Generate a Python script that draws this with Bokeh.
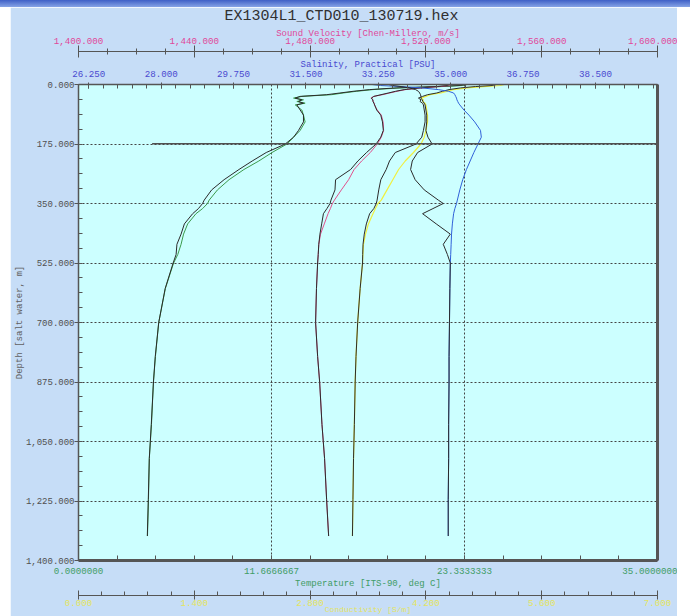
from bokeh.plotting import figure
from bokeh.models import Range1d, LinearAxis, FixedTicker, NumeralTickFormatter, Grid, Div
from bokeh.layouts import column
from bokeh.embed import file_html
from bokeh.resources import INLINE

# ---------------- data ----------------
depth_m = [0, 3, 6, 10, 15, 20, 25, 30, 35, 40, 45, 50, 55, 60, 75, 90, 110, 135, 155, 175,
           200, 225, 250, 280, 310, 340, 350, 365, 380, 410, 440, 470, 500, 525, 600, 700,
           800, 875, 1000, 1100, 1220, 1328]

temperature_c = [23.4, 23.2, 22.0, 19.5, 17.8, 16.8, 16.0, 15.3, 13.5, 13.0, 13.6, 13.2, 13.7, 13.1,
                 13.5, 13.6, 13.7, 13.4, 13.0, 12.6, 11.7, 10.9, 10.0, 9.1, 8.4, 7.9, 7.8, 7.5,
                 7.1, 6.6, 6.35, 6.2, 6.0, 5.75, 5.25, 4.85, 4.65, 4.53, 4.41, 4.28, 4.23, 4.17]
temperature2_c = [23.5, 23.0, 21.6, 19.2, 17.6, 16.6, 15.8, 15.0, 13.4, 13.1, 13.5, 13.3, 13.6, 13.2,
                  13.4, 13.6, 13.6, 13.3, 13.0, 12.5, 11.35, 10.5, 9.7, 8.8, 8.05, 7.6, 7.5, 7.25,
                  6.9, 6.4, 6.2, 5.95, 5.9, 5.72, 5.24, 4.85, 4.64, 4.53, 4.40, 4.28, 4.22, 4.16]

sound_velocity = [1528.5, 1528.0, 1525.0, 1519.0, 1513.0, 1510.0, 1507.5, 1505.0, 1502.0, 1501.0,
                  1501.8, 1501.6, 1502.3, 1502.2, 1503.2, 1504.6, 1505.2, 1505.4, 1504.6, 1503.2,
                  1500.8, 1497.8, 1495.2, 1493.3, 1490.8, 1488.4, 1487.7, 1487.0, 1486.2, 1484.9,
                  1483.6, 1483.0, 1482.8, 1482.6, 1482.2, 1481.9, 1482.6, 1483.3, 1484.1, 1485.0,
                  1485.7, 1486.4]
sound_velocity2 = [1528.0, 1527.5, 1524.0, 1518.0, 1512.5, 1509.5, 1507.0, 1504.5, 1502.0, 1501.2,
                   1501.6, 1501.8, 1502.0, 1502.3, 1503.0, 1504.4, 1505.0, 1505.3, 1504.4, 1502.8,
                   1499.5, 1496.5, 1494.0, 1488.8, 1488.6, 1487.2, 1486.9, 1485.8, 1484.6, 1484.0,
                   1483.4, 1483.0, 1482.8, 1482.6, 1482.2, 1481.9, 1482.6, 1483.3, 1484.1, 1485.0,
                   1485.7, 1486.4]

conductivity = [5.15, 5.10, 4.90, 4.70, 4.53, 4.45, 4.38, 4.25, 4.20, 4.14, 4.17, 4.16, 4.19, 4.20,
                4.21, 4.22, 4.22, 4.20, 4.18, 4.14, 4.05, 3.95, 3.87, 3.80, 3.73, 3.66, 3.62, 3.59,
                3.56, 3.505, 3.47, 3.445, 3.438, 3.434, 3.405, 3.375, 3.355, 3.345, 3.335, 3.325,
                3.318, 3.312]
conductivity2 = [5.05, 5.00, 4.80, 4.62, 4.48, 4.40, 4.33, 4.22, 4.16, 4.11, 4.14, 4.13, 4.16, 4.17,
                 4.18, 4.19, 4.19, 4.17, 4.15, 4.08, 3.83, 3.76, 3.72, 3.655, 3.63, 3.61, 3.60, 3.57,
                 3.52, 3.48, 3.455, 3.44, 3.436, 3.434, 3.405, 3.375, 3.355, 3.345, 3.335, 3.325,
                 3.318, 3.312]

salinity = [33.1, 33.3, 33.8, 34.3, 34.7, 34.95, 35.07, 35.10, 35.12, 35.14, 35.15, 35.17, 35.19,
            35.22, 35.32, 35.44, 35.58, 35.72, 35.74, 35.66, 35.56, 35.47, 35.38, 35.29, 35.22,
            35.16, 35.14, 35.10, 35.07, 35.04, 35.02, 35.01, 35.00, 34.99, 34.98, 34.97, 34.96,
            34.96, 34.95, 34.95, 34.94, 34.94]
salinity2 = [33.5, 33.6, 33.8, 34.0, 34.15, 34.22, 34.25, 34.27, 34.28, 34.28, 34.31, 34.33, 34.36,
             34.38, 34.40, 34.42, 34.42, 34.40, 34.45, 34.55, 34.20, 34.07, 34.03, 34.14, 34.36,
             34.70, 34.82, 34.57, 34.32, 34.65, 34.99, 34.82, 34.92, 34.99, 34.98, 34.97, 34.96,
             34.96, 34.95, 34.95, 34.94, 34.94]

marker_depth = [174]
marker_temp_start = [4.45]
marker_temp_end = [35.0]

depth_ticks = [0, 175, 350, 525, 700, 875, 1050, 1225, 1400]
temp_ticks = [0.0, 11.6666667, 23.3333333, 35.0]
sal_ticks = [26.25, 28.0, 29.75, 31.5, 33.25, 35.0, 36.75, 38.5]
sv_ticks = [1400, 1440, 1480, 1520, 1560, 1600]
cond_ticks = [0.0, 1.4, 2.8, 4.2, 5.6, 7.0]

depth_minor = [i * 43.75 for i in range(33)]
temp_minor = [i * 35.0 / 15 for i in range(16)]
sal_minor = [26.25 + i * 0.35 for i in range(40) if 26.25 + i * 0.35 <= 40]
sv_minor = [1400 + i * 10 for i in range(21)]
cond_minor = [i * 0.28 for i in range(26)]

# ---------------- style ----------------
FONT = "Liberation Mono"
TICK_FS = "9.2px"
TITLE_FS = "9px"
FRAME = "#555555"

p = figure(width=667, height=609, output_backend="svg", toolbar_location=None,
           x_range=Range1d(0, 35), y_range=Range1d(1400, 0),
           x_axis_type=None, y_axis_type=None,
           background_fill_color="#ccffff", border_fill_color="#c6ddf7",
           min_border_left=68, min_border_right=20, min_border_top=77, min_border_bottom=55,
           title="EX1304L1_CTD010_130719.hex")
p.margin = (0, 0, 0, 10)
p.outline_line_color = FRAME
p.outline_line_width = 1
p.title.text_font = FONT
p.title.text_font_size = "15px"
p.title.text_font_style = "normal"
p.title.text_color = "#303030"
p.title.align = "left"
p.title.vertical_align = "top"
p.title.offset = 146
p.title.standoff = -2

p.extra_x_ranges = {"sal": Range1d(26, 40), "sv": Range1d(1400, 1600), "cond": Range1d(0, 7)}


def style_axis(ax, color, label_color=None):
    ax.major_label_text_font = FONT
    ax.major_label_text_font_size = TICK_FS
    ax.major_label_text_color = color
    ax.axis_label_text_font = FONT
    ax.axis_label_text_font_size = TITLE_FS
    ax.axis_label_text_font_style = "normal"
    ax.axis_label_text_color = label_color or color
    ax.axis_line_color = FRAME
    ax.major_tick_line_color = FRAME
    ax.minor_tick_line_color = FRAME


# bottom: temperature then conductivity
temp_ax = LinearAxis(ticker=FixedTicker(ticks=temp_ticks, minor_ticks=temp_minor),
                     formatter=NumeralTickFormatter(format="0.0000000"),
                     axis_label="Temperature [ITS-90, deg C]\n")
style_axis(temp_ax, "#3f9c66")
temp_ax.axis_label_text_line_height = 0.4
temp_ax.axis_line_width = 3
temp_ax.major_tick_in = 5
temp_ax.major_tick_out = 0
temp_ax.minor_tick_in = 5
temp_ax.minor_tick_out = 0
temp_ax.major_label_standoff = 7
temp_ax.axis_label_standoff = 2
p.add_layout(temp_ax, "below")

cond_ax = LinearAxis(x_range_name="cond",
                     ticker=FixedTicker(ticks=cond_ticks, minor_ticks=cond_minor),
                     formatter=NumeralTickFormatter(format="0.000"),
                     axis_label="Conductivity [S/m]")
style_axis(cond_ax, "#e4e460")
cond_ax.axis_label_text_font_size = "8px"
cond_ax.major_tick_in = 5
cond_ax.major_tick_out = 4
cond_ax.minor_tick_in = 4
cond_ax.minor_tick_out = 0
cond_ax.major_label_standoff = 0
cond_ax.axis_label_standoff = -4
p.add_layout(cond_ax, "below")

# above: salinity then sound velocity
sal_ax = LinearAxis(x_range_name="sal",
                    ticker=FixedTicker(ticks=sal_ticks, minor_ticks=sal_minor),
                    formatter=NumeralTickFormatter(format="0,0.000"),
                    axis_label="\nSalinity, Practical [PSU]")
style_axis(sal_ax, "#4a4ad0")
sal_ax.axis_label_text_line_height = 0.5
sal_ax.axis_line_width = 1.5
sal_ax.major_tick_in = 4
sal_ax.major_tick_out = 2
sal_ax.minor_tick_in = 4
sal_ax.minor_tick_out = 0
sal_ax.major_label_standoff = 6
sal_ax.axis_label_standoff = -2
p.add_layout(sal_ax, "above")

sv_ax = LinearAxis(x_range_name="sv",
                   ticker=FixedTicker(ticks=sv_ticks, minor_ticks=sv_minor),
                   formatter=NumeralTickFormatter(format="0,0.000"),
                   axis_label="Sound Velocity [Chen-Millero, m/s]")
style_axis(sv_ax, "#e0489a")
sv_ax.major_tick_in = 6
sv_ax.major_tick_out = 6
sv_ax.minor_tick_in = 3
sv_ax.minor_tick_out = 3
sv_ax.major_label_standoff = 2
sv_ax.axis_label_standoff = -4
p.add_layout(sv_ax, "above")

# left: depth
depth_ax = LinearAxis(ticker=FixedTicker(ticks=depth_ticks, minor_ticks=depth_minor),
                      formatter=NumeralTickFormatter(format="0,0.000"),
                      axis_label="Depth [salt water, m]")
style_axis(depth_ax, "#505050", "#606060")
depth_ax.major_label_text_font_size = "9px"
depth_ax.axis_line_width = 1.5
depth_ax.major_tick_out = 4
depth_ax.major_tick_in = 0
depth_ax.minor_tick_in = 4
depth_ax.minor_tick_out = 0
depth_ax.major_label_standoff = 0
depth_ax.axis_label_standoff = -2
p.add_layout(depth_ax, "left")

# right: thick frame edge
right_ax = LinearAxis(ticker=FixedTicker(ticks=[]), axis_line_color=FRAME, axis_line_width=3,
                      major_tick_out=0, major_tick_in=0, minor_tick_out=0, minor_tick_in=0)
p.add_layout(right_ax, "right")

# grids
p.add_layout(Grid(dimension=0, ticker=FixedTicker(ticks=temp_ticks), grid_line_color="#444444",
                  grid_line_dash="2 2", grid_line_width=1))
p.add_layout(Grid(dimension=1, ticker=FixedTicker(ticks=depth_ticks), grid_line_color="#444444",
                  grid_line_dash="2 2", grid_line_width=1))

# ---------------- traces ----------------
DARK = "#2b2b2b"
p.line(temperature_c, depth_m, line_color="#3c9a4c", line_width=1)
p.line(temperature2_c, depth_m, line_color=DARK, line_width=1)
p.line(sound_velocity, depth_m, x_range_name="sv", line_color="#e0508c", line_width=1)
p.line(sound_velocity2, depth_m, x_range_name="sv", line_color=DARK, line_width=1)
p.line(conductivity, depth_m, x_range_name="cond", line_color="#f0f040", line_width=1.2)
p.line(conductivity2, depth_m, x_range_name="cond", line_color=DARK, line_width=1)
p.line(salinity, depth_m, x_range_name="sal", line_color="#3060d8", line_width=1)
p.line(salinity2, depth_m, x_range_name="sal", line_color=DARK, line_width=1)

p.segment(x0=marker_temp_start, y0=marker_depth, x1=marker_temp_end, y1=marker_depth,
          line_color="#505050", line_width=1.5)

bar = Div(text="", width=690, height=7, margin=0,
          styles={"background": "linear-gradient(to bottom, #3f60c6, #86a3e6)"})
layout = column(bar, p, spacing=0)

open("out.html", "w").write(file_html(layout, INLINE))
